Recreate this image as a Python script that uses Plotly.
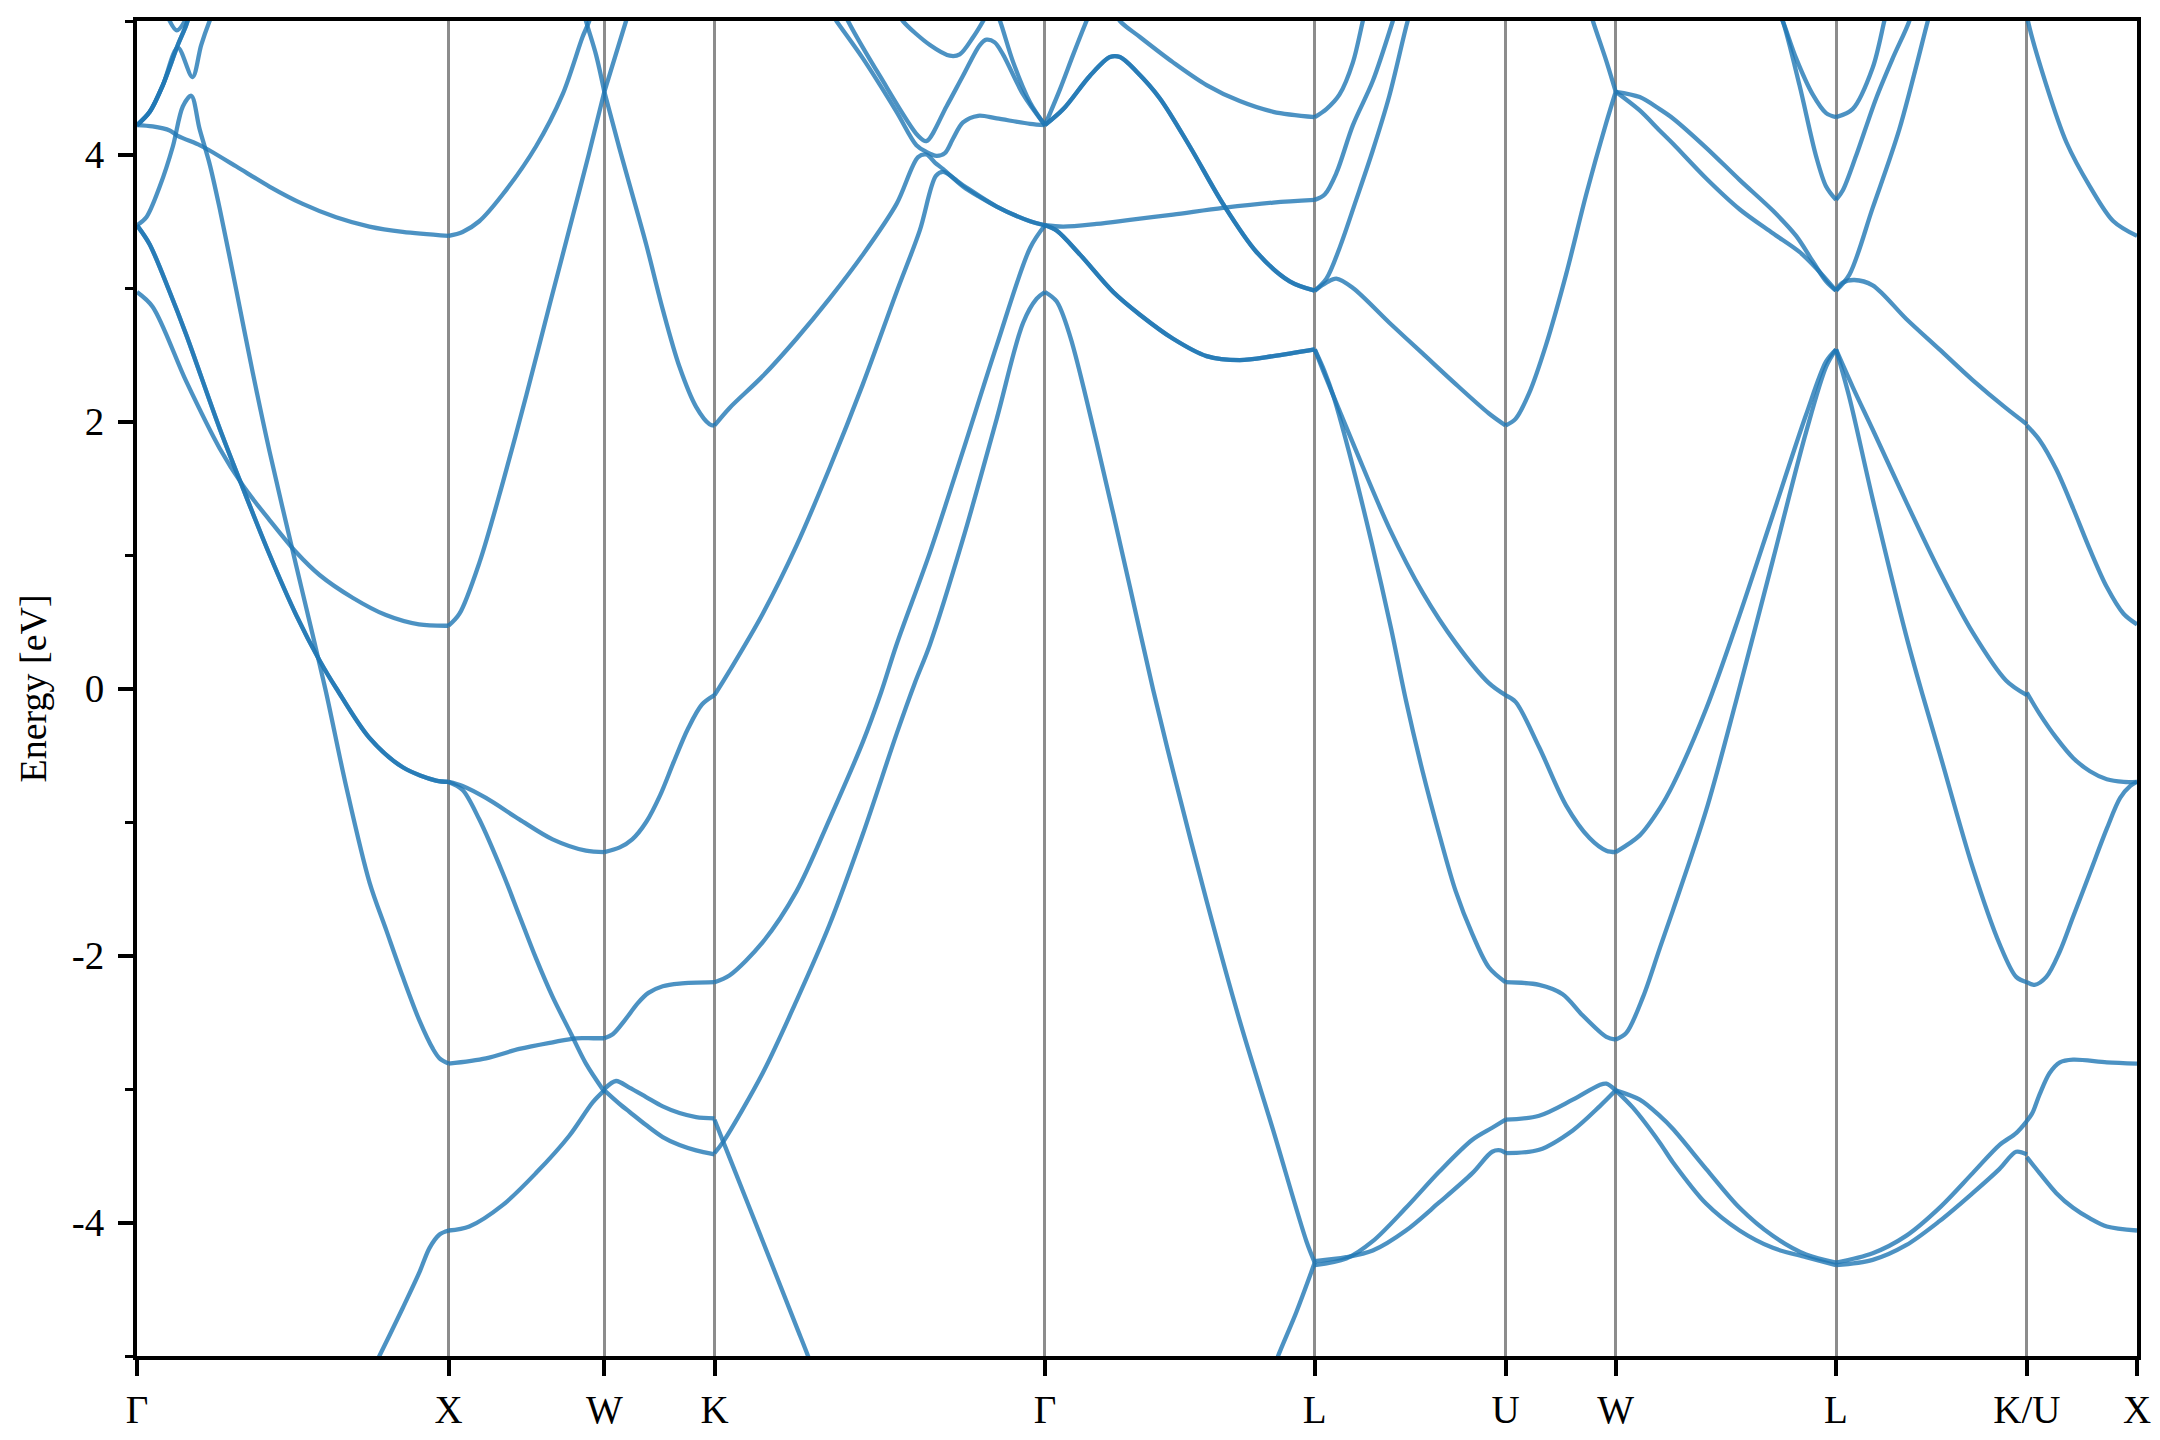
import plotly.graph_objects as go

# ---------------- data ----------------
# high-symmetry k-point positions (path length, 2π/a units) and their labels
KPOS = [0.0, 1.0, 1.5, 1.8536, 2.9142, 3.7802, 4.3926, 4.7462, 5.4533, 6.0657, 6.4193]
KLABELS = ["Γ", "X", "W", "K", "Γ", "L", "U", "W", "L", "K/U", "X"]

# energy axis ticks
Y_TICKS = [-4, -2, 0, 2, 4]
Y_TICKTEXT = ["-4", "-2", "0", "2", "4"]
Y_MINOR = [-5, -3, -1, 1, 3, 5]

# Bands per path segment: (fractional position along the segment, energy in eV)
BANDS_G_X = [
    ([0, .05, .158, .265, .34, .426, .511, .586, .692, .799, .905, 1],
     [2.97, 2.86, 2.30, 1.80, 1.52, 1.26, 1.02, 0.85, 0.68, 0.55, 0.48, 0.47]),
    ([0, .04, .105, .158, .265, .34, .426, .511, .586, .64, .746, .853, .96, 1],
     [3.47, 3.33, 2.97, 2.65, 1.95, 1.50, 1.00, 0.55, 0.21, 0.0, -0.37, -0.59, -0.69, -0.70]),
    ([0, .03, .073, .115, .147, .174, .201, .233, .265, .319, .372, .425, .511, .564, .607, .671, .746, .8, .853, .907, .95, .971, 1],
     [3.47, 3.53, 3.76, 4.06, 4.36, 4.44, 4.19, 3.93, 3.60, 2.98, 2.36, 1.78, 0.92, 0.40, -0.03, -0.73, -1.45, -1.81, -2.16, -2.49, -2.70, -2.77, -2.81]),
    ([0, .05, .105, .131, .201, .233, .319, .425, .532, .639, .746, .853, 1],
     [4.22, 4.21, 4.18, 4.14, 4.07, 4.03, 3.91, 3.76, 3.63, 3.53, 3.46, 3.42, 3.39]),
    ([0, .041, .083, .131, .158, .175],
     [4.22, 4.32, 4.52, 4.82, 4.97, 5.1]),
    ([0, .041, .083, .131, .178, .206, .233, .26],
     [4.22, 4.32, 4.52, 4.80, 4.58, 4.82, 5.0, 5.15]),
    ([.095, .128, .165],
     [5.05, 4.93, 5.05]),
    ([.70, .778, .853, .907, .939, .971, 1],
     [-5.37, -5.0, -4.64, -4.37, -4.19, -4.09, -4.06]),
]

BANDS_X_W = [
    ([0, .09, .197, .347, .561, .732, .86, .903, .95],
     [3.39, 3.42, 3.50, 3.70, 4.06, 4.45, 4.88, 5.0, 5.2]),
    ([.85, .882, .946, 1],
     [5.15, 5.0, 4.75, 4.47]),
    ([0, .07, .2, .35, .5, .65, .8, .9, 1],
     [0.47, 0.56, 0.95, 1.55, 2.2, 2.88, 3.55, 4.0, 4.47]),
    ([0, .09, .24, .454, .668, .882, 1],
     [-0.70, -0.73, -0.82, -0.98, -1.13, -1.215, -1.225]),
    ([0, .09, .197, .347, .454, .561, .668, .775, .882, 1],
     [-0.70, -0.76, -0.98, -1.38, -1.70, -2.02, -2.31, -2.56, -2.81, -3.02]),
    ([0, .24, .454, .668, .818, .93, 1],
     [-2.81, -2.77, -2.70, -2.65, -2.62, -2.62, -2.62]),
    ([0, .133, .347, .561, .775, .925, 1],
     [-4.06, -4.03, -3.87, -3.63, -3.35, -3.10, -3.01]),
]

BANDS_W_K = [
    ([0, .136, .227, .379, .53, .682, .833, .955, 1],
     [4.47, 4.05, 3.78, 3.33, 2.84, 2.41, 2.11, 1.98, 1.97]),
    ([0, .197, .25],
     [4.47, 5.0, 5.15]),
    ([0, .14, .253, .38, .506, .63, .76, .886, 1],
     [-1.225, -1.19, -1.13, -1.00, -0.80, -0.55, -0.30, -0.12, -0.05]),
    ([0, .076, .19, .30, .40, .53, .682, 1],
     [-2.62, -2.59, -2.48, -2.36, -2.28, -2.23, -2.21, -2.20]),
    ([0, .106, .227, .379, .53, .682, .833, 1],
     [-3.00, -2.94, -2.99, -3.06, -3.13, -3.18, -3.21, -3.22]),
    ([0, .15, .227, .379, .53, .682, .833, 1],
     [-3.01, -3.12, -3.17, -3.27, -3.36, -3.42, -3.46, -3.49]),
]

BANDS_K_G = [
    ([0, .045, .146, .248, .348, .449, .551, .616, .641, .667, .692, .752, .803, .854, .904, .955, 1],
     [1.97, 2.10, 2.34, 2.62, 2.92, 3.25, 3.63, 3.98, 4.00, 3.94, 3.89, 3.76, 3.68, 3.61, 3.55, 3.50, 3.47]),
    ([0, .045, .146, .248, .348, .449, .551, .621, .67, .692, .752, .854, .955, 1],
     [-0.05, 0.13, 0.56, 1.07, 1.65, 2.28, 2.97, 3.43, 3.84, 3.87, 3.77, 3.61, 3.50, 3.47]),
    ([.348, .369, .449, .551, .611, .641, .672, .697, .722, .752, .798, .854, .955, 1],
     [5.08, 5.0, 4.72, 4.32, 4.07, 4.02, 3.99, 4.01, 4.12, 4.24, 4.29, 4.27, 4.23, 4.22]),
    ([.389, .404, .5, .616, .641, .702, .752, .803, .823, .848, .873, .934, 1],
     [5.08, 5.0, 4.59, 4.14, 4.10, 4.36, 4.59, 4.82, 4.86, 4.84, 4.75, 4.45, 4.22]),
    ([.55, .57, .652, .712, .742, .783, .813, .83],
     [5.08, 5.0, 4.82, 4.74, 4.75, 4.88, 5.0, 5.08]),
    ([.85, .864, .904, .955, 1],
     [5.08, 5.0, 4.69, 4.39, 4.22]),
    ([0, .045, .146, .248, .348, .449, .504, .551, .652, .752, .854, .955, 1],
     [-2.20, -2.15, -1.90, -1.52, -0.98, -0.40, -0.03, 0.33, 1.02, 1.78, 2.57, 3.30, 3.47]),
    ([0, .025, .146, .248, .348, .449, .551, .606, .652, .752, .854, .934, .975, 1],
     [-3.48, -3.40, -2.88, -2.34, -1.77, -1.09, -0.34, 0.04, 0.33, 1.12, 2.02, 2.74, 2.92, 2.97]),
    ([0, .045, .146, .248, .283, .309],
     [-3.23, -3.51, -4.14, -4.78, -5.0, -5.18]),
]

BANDS_G_L = [
    ([0, .043, .093, .191, .315, .401, .475, .599, .722, .846, .969, 1],
     [2.97, 2.90, 2.64, 1.85, 0.76, -0.01, -0.62, -1.59, -2.49, -3.31, -4.14, -4.30]),
    ([.833, .864, .932, 1],
     [-5.18, -5.0, -4.67, -4.30]),
    ([0, .068, .191, .315, .475, .66, .846, 1],
     [3.47, 3.46, 3.48, 3.51, 3.55, 3.60, 3.64, 3.66]),
    ([0, .043, .13, .253, .352, .475, .599, .722, .846, 1],
     [3.47, 3.43, 3.25, 2.97, 2.80, 2.62, 2.49, 2.46, 2.49, 2.54]),
    ([0, .068, .167, .241, .278, .34, .426, .537, .66, .784, .907, 1],
     [4.22, 4.34, 4.59, 4.73, 4.73, 4.62, 4.42, 4.06, 3.63, 3.27, 3.05, 2.98]),
    ([0, .056, .105, .154, .175],
     [4.22, 4.49, 4.75, 5.0, 5.1]),
    ([.25, .278, .352, .475, .599, .722, .846, 1],
     [5.1, 5.0, 4.88, 4.69, 4.52, 4.40, 4.32, 4.28]),
]

BANDS_L_U = [
    ([0, .061, .13, .2, .252, .27],
     [4.28, 4.34, 4.45, 4.69, 5.0, 5.1]),
    ([0, .052, .113, .2, .304, .409, .43],
     [3.66, 3.70, 3.86, 4.22, 4.55, 5.0, 5.1]),
    ([0, .061, .13, .217, .304, .391, .487, .51],
     [2.98, 3.07, 3.30, 3.66, 4.03, 4.44, 5.0, 5.1]),
    ([0, .061, .113, .2, .391, .565, .739, .913, 1],
     [2.98, 3.04, 3.07, 3.00, 2.74, 2.51, 2.28, 2.06, 1.97]),
    ([0, .061, .217, .391, .565, .739, .913, 1],
     [2.54, 2.32, 1.78, 1.20, 0.72, 0.34, 0.04, -0.05]),
    ([0, .05, .1, .2, .3, .4, .478, .565, .652, .739, .826, .913, 1],
     [2.54, 2.38, 2.18, 1.66, 1.08, 0.45, -0.09, -0.62, -1.09, -1.52, -1.84, -2.09, -2.20]),
    ([0, .165, .304, .478, .652, .826, .93, 1],
     [-4.32, -4.27, -4.14, -3.89, -3.62, -3.38, -3.29, -3.23]),
    ([0, .165, .304, .478, .652, .826, .93, .974, 1],
     [-4.29, -4.26, -4.21, -4.06, -3.85, -3.63, -3.47, -3.46, -3.48]),
]

BANDS_U_W = [
    ([0, .091, .213, .366, .549, .732, .915, 1],
     [1.97, 2.02, 2.21, 2.57, 3.10, 3.70, 4.24, 4.47]),
    ([.74, .793, .915, 1],
     [5.15, 5.0, 4.70, 4.47]),
    ([0, .091, .305, .549, .762, .915, 1],
     [-0.05, -0.10, -0.44, -0.875, -1.12, -1.215, -1.225]),
    ([0, .305, .518, .701, .915, 1],
     [-2.20, -2.22, -2.29, -2.45, -2.61, -2.63]),
    ([0, .305, .61, .854, .915, 1],
     [-3.23, -3.20, -3.08, -2.97, -2.96, -3.01]),
    ([0, .305, .61, .854, 1],
     [-3.48, -3.455, -3.31, -3.13, -3.01]),
]

BANDS_W_L = [
    ([0, .109, .199, .26, .411, .562, .713, .819, .894, .955, 1],
     [4.47, 4.43, 4.34, 4.27, 4.05, 3.81, 3.58, 3.39, 3.20, 3.05, 2.98]),
    ([0, .109, .199, .26, .411, .562, .713, .834, .909, 1],
     [4.47, 4.33, 4.18, 4.08, 3.82, 3.59, 3.41, 3.27, 3.15, 2.98]),
    ([.74, .758, .819, .894, .955, 1],
     [5.06, 5.0, 4.72, 4.45, 4.31, 4.28]),
    ([.74, .758, .834, .909, .955, 1],
     [5.06, 5.0, 4.52, 3.99, 3.76, 3.66]),
    ([0, .109, .199, .26, .411, .562, .713, .864, .955, 1],
     [-1.225, -1.10, -0.90, -0.72, -0.15, 0.55, 1.30, 2.05, 2.45, 2.54]),
    ([0, .048, .124, .199, .26, .411, .547, .713, .864, .955, 1],
     [-2.63, -2.58, -2.31, -1.95, -1.66, -0.91, -0.09, 0.96, 1.92, 2.41, 2.54]),
    ([0, .109, .199, .26, .411, .562, .713, .864, 1],
     [-3.01, -3.08, -3.20, -3.30, -3.60, -3.89, -4.10, -4.24, -4.30]),
    ([0, .078, .199, .26, .411, .562, .713, .864, 1],
     [-3.01, -3.14, -3.40, -3.55, -3.86, -4.06, -4.19, -4.26, -4.32]),
]

BANDS_L_K = [
    ([0, .087, .192, .253, .27],
     [4.28, 4.34, 4.65, 5.0, 5.1]),
    ([0, .035, .105, .21, .297, .384, .40],
     [3.66, 3.73, 3.99, 4.42, 4.72, 5.0, 5.1]),
    ([0, .07, .192, .332, .481, .50],
     [2.98, 3.10, 3.60, 4.19, 5.0, 5.1]),
    ([0, .035, .096, .192, .367, .542, .716, .891, 1],
     [2.98, 3.04, 3.06, 3.02, 2.77, 2.54, 2.31, 2.10, 1.98]),
    ([0, .087, .192, .367, .542, .716, .891, 1],
     [2.54, 2.26, 1.94, 1.40, 0.88, 0.42, 0.06, -0.05]),
    ([0, .07, .192, .367, .454, .542, .716, .856, .944, 1],
     [2.54, 2.18, 1.42, 0.40, -0.05, -0.48, -1.34, -1.91, -2.16, -2.20]),
    ([0, .192, .367, .542, .716, .856, .944, 1],
     [-4.30, -4.23, -4.10, -3.89, -3.63, -3.42, -3.33, -3.24]),
    ([0, .192, .367, .542, .716, .856, .944, 1],
     [-4.32, -4.28, -4.17, -3.99, -3.78, -3.60, -3.47, -3.49]),
]

BANDS_K_X = [
    ([0, .01, .177, .36, .573, .786, 1],
     [5.05, 5.0, 4.52, 4.09, 3.76, 3.50, 3.39]),
    ([0, .116, .268, .42, .573, .726, .878, 1],
     [1.97, 1.86, 1.64, 1.35, 1.04, 0.76, 0.56, 0.48]),
    ([0, .116, .268, .42, .573, .726, .878, 1],
     [-0.03, -0.19, -0.37, -0.52, -0.62, -0.68, -0.70, -0.70]),
    ([0, .07, .177, .299, .42, .573, .726, .847, .939, 1],
     [-2.20, -2.22, -2.16, -1.97, -1.71, -1.38, -1.05, -0.82, -0.73, -0.70]),
    ([0, .05, .116, .207, .3, .42, .726, 1],
     [-3.24, -3.18, -3.04, -2.88, -2.80, -2.78, -2.80, -2.81]),
    ([0, .116, .268, .42, .573, .726, 1],
     [-3.51, -3.63, -3.78, -3.89, -3.97, -4.03, -4.06]),
]

SEGMENTS = [BANDS_G_X, BANDS_X_W, BANDS_W_K, BANDS_K_G, BANDS_G_L,
            BANDS_L_U, BANDS_U_W, BANDS_W_L, BANDS_L_K, BANDS_K_X]

# ---------------- styling ----------------
LINE_COLOR = "rgba(31,119,180,0.8)"
LINE_WIDTH = 4.3
# degenerate (overlapping) bands drawn twice so they appear darker
DOUBLED = {(0, 1), (0, 4), (4, 3), (4, 4)}
FONT = "Liberation Serif, Times New Roman, serif"

# the page body has an 8 px default margin, so the figure is 8 px smaller
FIG_W, FIG_H = 2152, 1432
M_L, M_R, M_T, M_B = 129, 23, 13, 84

fig = go.Figure()
for si, seg in enumerate(SEGMENTS):
    k0, k1 = KPOS[si], KPOS[si + 1]
    for bi, (t, e) in enumerate(seg):
        k = [k0 + ti * (k1 - k0) for ti in t]
        reps = 2 if (si, bi) in DOUBLED else 1
        for _ in range(reps):
            fig.add_trace(go.Scatter(
                x=k, y=e, mode="lines",
                line=dict(color=LINE_COLOR, width=LINE_WIDTH, shape="spline", smoothing=0.9),
                showlegend=False, hoverinfo="skip"))

fig.update_layout(
    width=FIG_W, height=FIG_H,
    margin=dict(l=M_L, r=M_R, t=M_T, b=M_B, autoexpand=False),
    paper_bgcolor="white", plot_bgcolor="white",
    font=dict(family=FONT, size=39, color="black"),
    showlegend=False,
)

fig.update_xaxes(
    range=[KPOS[0], KPOS[-1]], automargin=False,
    tickmode="array", tickvals=KPOS, ticktext=KLABELS,
    ticks="outside", ticklen=16, tickwidth=4, tickcolor="black",
    showgrid=True, gridcolor="rgba(0,0,0,0.45)", gridwidth=2.5,
    showline=True, linecolor="black", linewidth=4, mirror=True,
    zeroline=False, ticklabelstandoff=0,
    tickfont=dict(family=FONT, size=39, color="black"),
)

fig.update_yaxes(
    range=[-5, 5], automargin=False,
    tickmode="array", tickvals=Y_TICKS, ticktext=Y_TICKTEXT,
    ticks="outside", ticklen=15, tickwidth=4, tickcolor="black",
    minor=dict(tickmode="array", tickvals=Y_MINOR, ticks="outside", ticklen=8,
               tickwidth=3, tickcolor="black", showgrid=False),
    showgrid=False, zeroline=False,
    showline=True, linecolor="black", linewidth=4, mirror=True,
    ticklabelstandoff=6,
    tickfont=dict(family=FONT, size=39, color="black"),
)

plot_w = FIG_W - M_L - M_R
fig.add_annotation(
    text="Energy [eV]", textangle=-90,
    xref="paper", yref="paper", x=-(M_L - 24) / plot_w, y=0.5,
    xanchor="center", yanchor="middle", showarrow=False,
    font=dict(family=FONT, size=38, color="black"),
)

fig.write_html("out.html")
